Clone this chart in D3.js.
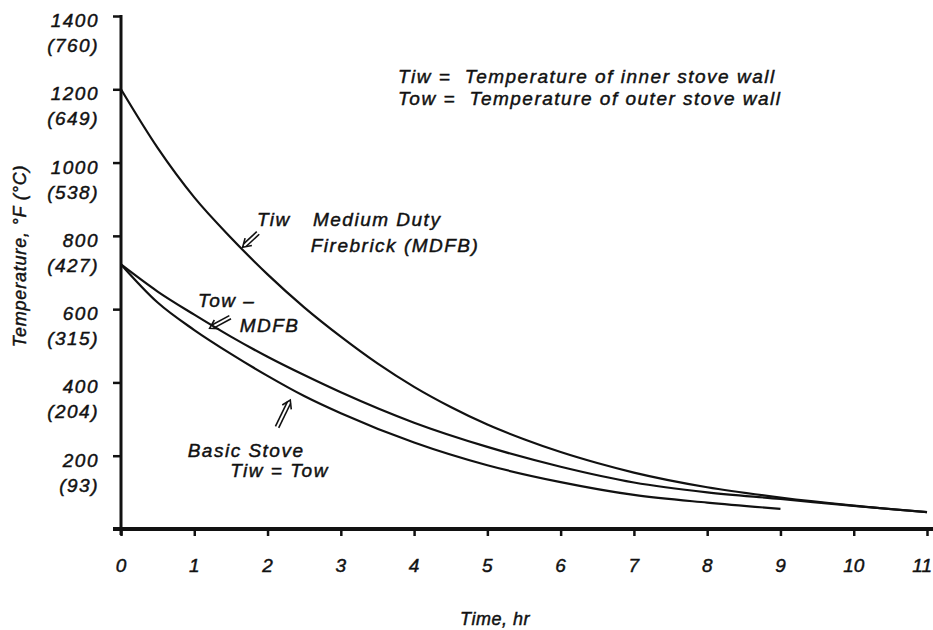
<!DOCTYPE html>
<html>
<head>
<meta charset="utf-8">
<script src="https://cdn.jsdelivr.net/npm/d3@7"></script>
<style>
  body { margin: 0; background: #fff; }
  text { font-family: "Liberation Sans", Arial, sans-serif; font-style: italic; fill: #111; stroke: #111; stroke-width: 0.45px; }
</style>
</head>
<body>
<svg id="chart" width="933" height="630"></svg>
<script>
// hours after firing stops
const tiwTime = [0, 0.5, 1, 1.5, 2, 2.5, 3, 3.5, 4, 4.5, 5, 5.5, 6, 6.5, 7, 8, 9, 10, 11]
const tiwMdfb = [1200, 1040, 905, 795, 695, 605, 525, 452, 388, 333, 285, 245, 210, 180, 154, 114, 86, 64, 46]

const towTime = [0, 0.5, 1, 1.5, 2, 2.5, 3, 4, 5, 6, 7, 8, 9, 10, 11]
const towMdfb = [722, 648, 585, 525, 470, 420, 373, 290, 224, 170, 127, 100, 82, 63, 46]

const basicTime = [0, 0.5, 1, 1.5, 2, 2.5, 3, 4, 5, 6, 7, 8, 9]
const basicStove = [722, 618, 543, 478, 418, 363, 316, 236, 174, 128, 93, 72, 55]

const xTicks = [0, 1, 2, 3, 4, 5, 6, 7, 8, 9, 10, 11]
const yTicksF = [200, 400, 600, 800, 1000, 1200, 1400]
const yTicksC = [93, 204, 315, 427, 538, 649, 760]

const svg = d3.select('#chart')
const x = d3.scaleLinear().domain([0, 11]).range([121, 927])
const y = d3.scaleLinear().domain([0, 1400]).range([529, 16])

// axes
const xAxis = svg.append('g')
    .attr('transform', 'translate(0,' + y(0) + ')')
    .call(d3.axisBottom(x).tickValues(xTicks).tickSize(7).tickSizeOuter(0).tickFormat(''))
xAxis.select('.domain').remove()
xAxis.selectAll('.tick line').attr('stroke', '#111').attr('stroke-width', 2.5)

const yAxis = svg.append('g')
    .attr('transform', 'translate(' + x(0) + ',0)')
    .call(d3.axisLeft(y).tickValues(yTicksF).tickSize(8).tickSizeOuter(0).tickFormat(''))
yAxis.select('.domain').remove()
yAxis.selectAll('.tick line').attr('stroke', '#111').attr('stroke-width', 2.5)

svg.append('line')
    .attr('x1', x(0) - 8).attr('x2', 933)
    .attr('y1', y(0)).attr('y2', y(0))
    .attr('stroke', '#111').attr('stroke-width', 4)
svg.append('line')
    .attr('x1', x(0)).attr('x2', x(0))
    .attr('y1', y(1400) - 1).attr('y2', y(0) + 6)
    .attr('stroke', '#111').attr('stroke-width', 3)

// tick labels
svg.selectAll('.xlab')
    .data(xTicks)
    .enter()
    .append('text')
    .attr('class', 'xlab')
    .attr('x', d => (d === 11 ? 932 : x(d)))
    .attr('y', y(0) + 43)
    .attr('text-anchor', d => (d === 11 ? 'end' : 'middle'))
    .style('font-size', '19px')
    .text(d => d)

svg.selectAll('.ylabF')
    .data(yTicksF)
    .enter()
    .append('text')
    .attr('x', 99)
    .attr('y', d => y(d) + 11)
    .attr('text-anchor', 'end')
    .style('font-size', '19px')
    .style('letter-spacing', '1.5px')
    .text(d => d)

svg.selectAll('.ylabC')
    .data(yTicksC)
    .enter()
    .append('text')
    .attr('x', 99)
    .attr('y', (d, i) => y(yTicksF[i]) + 36)
    .attr('text-anchor', 'end')
    .style('font-size', '19px')
    .style('letter-spacing', '1.5px')
    .text(d => '(' + d + ')')

svg.append('text')
    .attr('transform', 'translate(26,256) rotate(-90)')
    .attr('text-anchor', 'middle')
    .style('font-size', '18px')
    .style('letter-spacing', '0.8px')
    .text('Temperature, °F (°C)')

svg.append('text')
    .attr('x', 495)
    .attr('y', 625)
    .attr('text-anchor', 'middle')
    .style('font-size', '18px')
    .style('letter-spacing', '0.5px')
    .text('Time, hr')

// curves
const line = d3.line()
    .x(d => x(d[0]))
    .y(d => y(d[1]))
    .curve(d3.curveMonotoneX)

const series = [
    d3.zip(tiwTime, tiwMdfb),
    d3.zip(towTime, towMdfb),
    d3.zip(basicTime, basicStove)
]
svg.selectAll('.curve')
    .data(series)
    .enter()
    .append('path')
    .attr('class', 'curve')
    .attr('d', line)
    .attr('fill', 'none')
    .attr('stroke', '#111')
    .attr('stroke-width', 2.2)

// annotations, placed in data units
const notes = [
    [1.855, 827, 'Tiw'],
    [2.62, 827, 'Medium Duty'],
    [2.59, 756, 'Firebrick (MDFB)'],
    [1.05, 606, 'Tow –'],
    [1.62, 538, 'MDFB'],
    [0.91, 196, 'Basic Stove'],
    [1.49, 142, 'Tiw = Tow'],
    [3.78, 1218, 'Tiw =  Temperature of inner stove wall'],
    [3.78, 1158, 'Tow =  Temperature of outer stove wall']
]
svg.selectAll('.note')
    .data(notes)
    .enter()
    .append('text')
    .attr('class', 'note')
    .attr('x', d => x(d[0]))
    .attr('y', d => y(d[1]))
    .style('font-size', '19px')
    .style('letter-spacing', '1.5px')
    .style('white-space', 'pre')
    .text(d => d[2])

// small double-line arrows: [tail t, tail v, tip t, tip v]
const arrows = [
    [1.87, 808, 1.66, 769],
    [1.49, 578, 1.21, 548],
    [2.13, 278, 2.31, 352]
]
arrows.forEach(a => {
    const x1 = x(a[0]), y1 = y(a[1]), x2 = x(a[2]), y2 = y(a[3])
    const len = Math.hypot(x2 - x1, y2 - y1)
    const ux = (x2 - x1) / len, uy = (y2 - y1) / len
    const px = -uy, py = ux
    const g = svg.append('g').attr('fill', 'none').attr('stroke', '#111').attr('stroke-width', 1.6)
    const h = 8
    ;[-1.8, 1.8].forEach(o => {
        g.append('line')
            .attr('x1', x1 + px * o).attr('y1', y1 + py * o)
            .attr('x2', x2 - ux * 3 + px * o).attr('y2', y2 - uy * 3 + py * o)
    })
    g.append('path')
        .attr('d', 'M' + (x2 - ux * h + px * 5) + ',' + (y2 - uy * h + py * 5) +
            'L' + x2 + ',' + y2 +
            'L' + (x2 - ux * h - px * 5) + ',' + (y2 - uy * h - py * 5))
})
</script>
</body>
</html>
